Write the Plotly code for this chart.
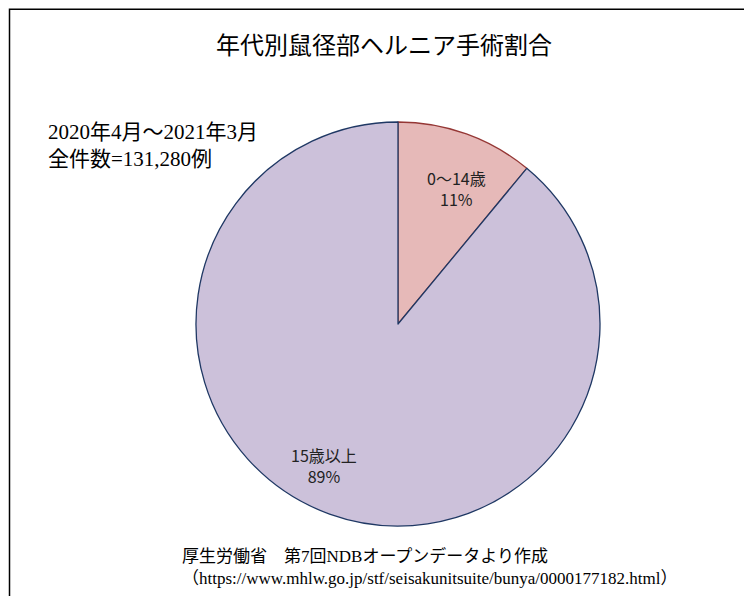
import plotly.graph_objects as go

labels = ["0～14歳", "15歳以上"]
shares = [11, 89]
fills = ["#E6B9B8", "#CCC1DA"]
edges = ["#953735", "#1F3864"]
# label anchor positions in pixels (layout only)
label_px = [(448, 181), (316, 457)]

W, H = 752, 596
fig = go.Figure(go.Pie(
    labels=labels, values=shares, sort=False, direction="clockwise", rotation=0,
    marker=dict(colors=fills, line=dict(color=edges, width=1.3)),
    textinfo="none", hoverinfo="label+percent", showlegend=False,
    domain=dict(x=[(390 - 202) / W, (390 + 202) / W], y=[1 - 518 / H, 1 - 114 / H]),
))

anns = [
    dict(text="2020年4月～2021年3月<br>全件数=131,280例", x=38 / W, y=1 - 110 / H,
         xref="paper", yref="paper", xanchor="left", yanchor="top", align="left", showarrow=False,
         font=dict(family="Liberation Serif, Noto Sans CJK JP", size=21, color="black")),
    dict(text="厚生労働省　第7回NDBオープンデータより作成<br>（https://www.mhlw.go.jp/stf/seisakunitsuite/bunya/0000177182.html）",
         x=172 / W, y=1 - 536 / H, xref="paper", yref="paper", xanchor="left", yanchor="top",
         align="left", showarrow=False,
         font=dict(family="Liberation Serif, Noto Sans CJK JP", size=17, color="black")),
]
for lab, val, (px, py) in zip(labels, shares, label_px):
    anns.append(dict(text=f"{lab}<br>{val}%", x=px / W, y=1 - py / H, xref="paper", yref="paper",
                     xanchor="center", yanchor="middle", showarrow=False, align="center",
                     font=dict(family="Noto Sans CJK JP", size=16, color="#222")))

fig.update_layout(
    width=W, height=H, margin=dict(l=0, r=0, t=0, b=0),
    paper_bgcolor="white",
    title=dict(text="年代別鼠径部ヘルニア手術割合", x=0.5, y=1 - 38 / H, xanchor="center", yanchor="middle",
               font=dict(family="Noto Sans CJK JP", size=24, color="black")),
    shapes=[dict(type="rect", xref="paper", yref="paper", x0=0.002, y0=0.003, x1=0.997, y1=0.998,
                 line=dict(color="black", width=1.5))],
    annotations=anns,
)

fig.write_html("out.html")
